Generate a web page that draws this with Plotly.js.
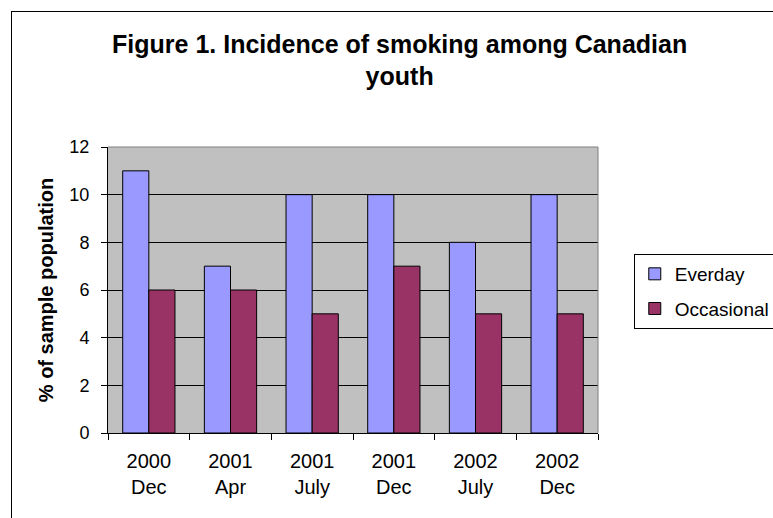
<!DOCTYPE html>
<html>
<head>
<meta charset="utf-8">
<script src="https://cdn.plot.ly/plotly-3.0.1.min.js"></script>
<style>
  html, body { margin: 0; padding: 0; background: #fff; }
  #wrap { position: relative; width: 773px; height: 518px; overflow: hidden; }
  #chart { position: absolute; left: 0; top: 0; width: 773px; height: 518px; }
  #frame { position: absolute; left: 11px; top: 11px; width: 900px; height: 700px;
           border-left: 1px solid #000; border-top: 1px solid #000; pointer-events: none; }
</style>
</head>
<body>
<div id="wrap">
  <div id="chart"></div>
  <div id="frame"></div>
</div>
<script>
// Survey periods (two-line tick labels)
const periods = ["2000<br>Dec", "2001<br>Apr", "2001<br>July", "2001<br>Dec", "2002<br>July", "2002<br>Dec"];
// Percent of sample population that smokes
const everday = [11, 7, 10, 10, 8, 10];
const occasional = [6, 6, 5, 7, 5, 5];
const yTicks = [0, 2, 4, 6, 8, 10, 12];

const font = "Liberation Sans, Arial, sans-serif";

const traces = [
  {
    type: "bar", name: "Everday", x: periods, y: everday,
    legendgroup: "a",
    marker: { color: "#9999FF", line: { color: "#000", width: 1 } }
  },
  {
    type: "bar", name: "Occasional", x: periods, y: occasional,
    legendgroup: "b",
    marker: { color: "#993366", line: { color: "#000", width: 1 } }
  }
];

const layout = {
  width: 773, height: 518,
  margin: { l: 108, r: 175, t: 147, b: 85, pad: 0, autoexpand: false },
  paper_bgcolor: "rgba(0,0,0,0)",
  plot_bgcolor: "#C0C0C0",
  barmode: "group",
  bargap: 0.36,
  bargroupgap: 0,
  font: { family: font, color: "#000", size: 18 },
  title: {
    text: "<b>Figure 1. Incidence of smoking among Canadian<br>youth</b>",
    font: { family: font, size: 25, color: "#000" },
    xref: "container", x: 0.517, xanchor: "center",
    yref: "container", y: 0.898, yanchor: "middle"
  },
  xaxis: {
    type: "category",
    tickson: "boundaries",
    ticks: "outside", ticklen: 6, tickcolor: "#000", tickwidth: 1,
    ticklabelstandoff: 10,
    showline: true, linecolor: "#000", linewidth: 1,
    showgrid: false,
    tickfont: { family: font, size: 20, color: "#000" }
  },
  yaxis: {
    range: [0, 12],
    tickvals: yTicks,
    ticks: "outside", ticklen: 6, tickcolor: "#000", tickwidth: 1,
    ticklabelstandoff: 8,
    showline: true, linecolor: "#000", linewidth: 1,
    showgrid: true, gridcolor: "#000", gridwidth: 1,
    zeroline: false,
    tickfont: { family: font, size: 18, color: "#000" },
    title: {
      text: "<b>% of sample population</b>",
      font: { family: font, size: 20, color: "#000" },
      standoff: 10
    }
  },
  showlegend: true,
  legend: {
    x: 1.073, xanchor: "left",
    y: 0.626, yanchor: "top",
    bgcolor: "#fff",
    bordercolor: "#000", borderwidth: 1,
    font: { family: font, size: 19, color: "#000" },
    traceorder: "grouped",
    tracegroupgap: 7,
    itemwidth: 30
  },
  shapes: [
    // grey top and right edges of the plot area
    { type: "line", xref: "paper", yref: "paper", x0: 0, x1: 1, y0: 1, y1: 1,
      line: { color: "#808080", width: 1 } },
    { type: "line", xref: "paper", yref: "paper", x0: 1, x1: 1, y0: 0, y1: 1,
      line: { color: "#808080", width: 1 } }
  ]
};

Plotly.newPlot("chart", traces, layout, { displayModeBar: false, staticPlot: true });
</script>
</body>
</html>
